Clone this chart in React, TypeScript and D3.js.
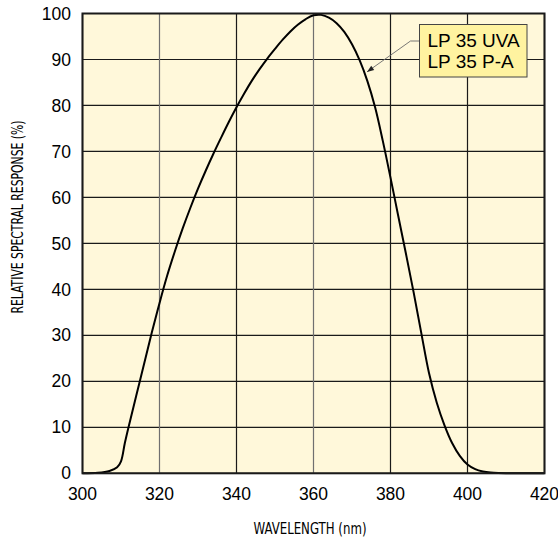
import React from "react";
import * as d3 from "d3";

const wavelengths = [300, 304, 307, 309, 310, 311, 312, 315, 318, 320, 322, 324, 326, 328, 330, 332, 334, 336, 338, 340, 342, 344, 346, 348, 350, 352, 354, 356, 358, 360, 362, 364, 366, 368, 370, 372, 374, 376, 378, 380, 382, 384, 386, 388, 390, 392, 394, 396, 398, 400, 402, 404, 406, 408, 410, 420];
const response = [0, 0.1, 0.5, 1.3, 2.6, 6.6, 10.2, 20.4, 30.6, 37, 43, 48.3, 53.2, 57.7, 61.9, 65.8, 69.5, 73, 76.4, 79.6, 82.6, 85.4, 87.9, 90.2, 92.3, 94.3, 96.1, 97.6, 98.8, 99.6, 99.7, 99.1, 97.9, 96, 93.3, 89.8, 85.3, 79.6, 72.3, 64.3, 56, 47.8, 39.4, 30.5, 21.8, 15.4, 10.5, 6.6, 3.8, 1.9, 0.9, 0.4, 0.15, 0.04, 0, 0];

const xTicks = [300, 320, 340, 360, 380, 400, 420];
const yTicks = [0, 10, 20, 30, 40, 50, 60, 70, 80, 90, 100];
const legendLines = ["LP 35 UVA", "LP 35 P-A"];
const xTitle = "WAVELENGTH (nm)";
const yTitle = "RELATIVE SPECTRAL RESPONSE (%)";

export default function App() {
  const W = 558, H = 541;
  const L = 82.5, R = 544.5, T = 13.5, B = 473.3;
  const x = d3.scaleLinear().domain([300, 420]).range([L, R]);
  const y = d3.scaleLinear().domain([0, 100]).range([B, T]);
  const pts: [number, number][] = wavelengths.map((w, i) => [w, response[i]]);
  const line = d3.line<[number, number]>().x(d => x(d[0])).y(d => y(d[1])).curve(d3.curveCatmullRom.alpha(0.5));
  const font = "Liberation Sans, Arial, sans-serif";
  const narrow = "'Liberation Sans Narrow', 'DejaVu Sans Condensed', 'Arial Narrow', sans-serif";
  const greyV = new Set([320, 360]);
  const tip: [number, number] = [x(373.9), y(87.3)];
  const elbow: [number, number] = [410.5, 41];
  const boxX = 419.5, boxY = 24.5, boxW = 107.5, boxH = 52.5;
  const ang = Math.atan2(tip[1] - elbow[1], tip[0] - elbow[0]);
  const ah = 7, aw = 2.6;
  const ax1 = tip[0] - ah * Math.cos(ang) + aw * Math.sin(ang);
  const ay1 = tip[1] - ah * Math.sin(ang) - aw * Math.cos(ang);
  const ax2 = tip[0] - ah * Math.cos(ang) - aw * Math.sin(ang);
  const ay2 = tip[1] - ah * Math.sin(ang) + aw * Math.cos(ang);
  return (
    <svg width={W} height={H} style={{ position: "absolute", left: 0, top: 0, background: "#fff" }}>
      <rect x={L} y={T} width={R - L} height={B - T} fill="#FFF8DA" />
      {yTicks.map(t => (
        <line key={"gy" + t} x1={L} x2={R} y1={y(t)} y2={y(t)} stroke="#1a1a1a" strokeWidth={1.2} />
      ))}
      {xTicks.map(t => (
        <line key={"gx" + t} x1={x(t)} x2={x(t)} y1={T} y2={B} stroke={greyV.has(t) ? "#707070" : "#1a1a1a"} strokeWidth={1.2} />
      ))}
      <path d={line(pts) || ""} fill="none" stroke="#000" strokeWidth={2} strokeLinejoin="round" />
      <rect x={L} y={T} width={R - L} height={B - T} fill="none" stroke="#1a1a1a" strokeWidth={2} />
      {yTicks.map(t => (
        <text key={"ty" + t} x={71} y={y(t)} dy="0.35em" textAnchor="end" fontFamily={font} fontSize={17.5} fill="#000">{t}</text>
      ))}
      {xTicks.map(t => (
        <text key={"tx" + t} x={x(t)} y={500} textAnchor="middle" fontFamily={font} fontSize={17.5} fill="#000">{t}</text>
      ))}
      <text x={310} y={534} textAnchor="middle" fontFamily={narrow} fontSize={16} textLength={113} lengthAdjust="spacingAndGlyphs" fill="#000">{xTitle}</text>
      <text transform="translate(22.5,217) rotate(-90)" textAnchor="middle" fontFamily={narrow} fontSize={15.5} textLength={193} lengthAdjust="spacingAndGlyphs" fill="#000">{yTitle}</text>
      <polyline points={`${boxX},${elbow[1]} ${elbow[0]},${elbow[1]} ${tip[0]},${tip[1]}`} fill="none" stroke="#6a6a6a" strokeWidth={0.9} />
      <polygon points={`${tip[0]},${tip[1]} ${ax1},${ay1} ${ax2},${ay2}`} fill="#222" />
      <rect x={boxX} y={boxY} width={boxW} height={boxH} fill="#FFF3A0" stroke="#444" strokeWidth={1} />
      {legendLines.map((s, i) => (
        <text key={s} x={427.5} y={46.5 + i * 21.5} fontFamily={font} fontSize={19} fill="#000">{s}</text>
      ))}
    </svg>
  );
}
